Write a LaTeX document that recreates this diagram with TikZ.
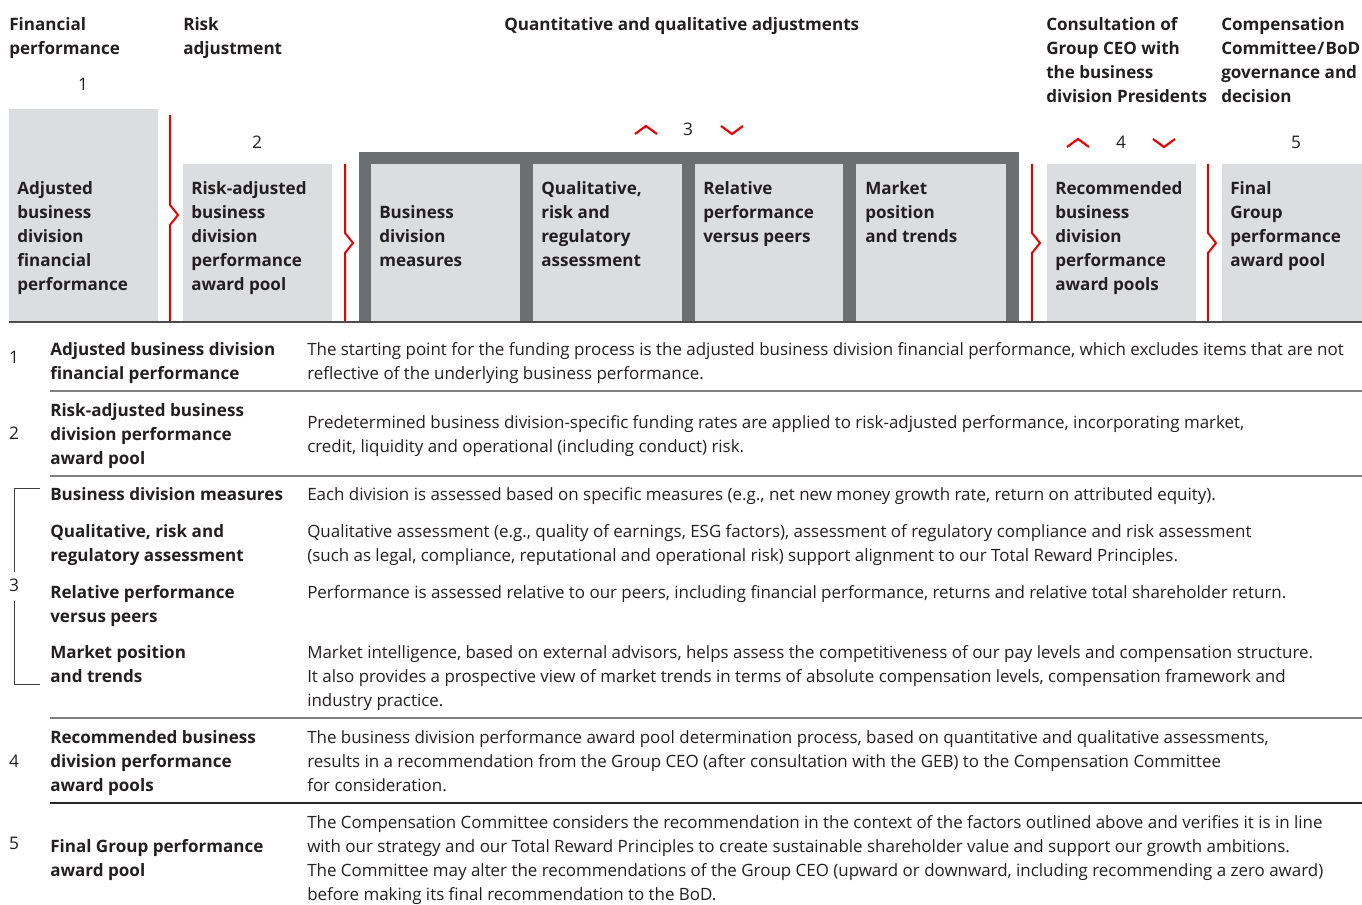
\documentclass[tikz,border=0pt]{standalone}
\usepackage{fontspec}
\setmainfont{Open Sans}
\definecolor{poolgray}{HTML}{DCDDDF}
\definecolor{framegray}{HTML}{6D6E71}
\definecolor{ubsred}{HTML}{E60000}
\definecolor{ink}{HTML}{231F20}
\definecolor{rulegray}{HTML}{7F7F7F}
\tikzset{
  hd/.style={anchor=base west, inner sep=0pt, align=left, text=ink, font=\bfseries\fontsize{12.8}{18}\selectfont},
  txt/.style={anchor=base west, inner sep=0pt, align=left, text=ink, font=\fontsize{12.7}{18}\selectfont},
  num/.style={anchor=base, inner sep=0pt, text=ink, font=\fontsize{13}{18}\selectfont},
  pool/.style={fill=poolgray},
  redsep/.style={draw=ubsred, line width=1.5pt},
  updown/.style={draw=ubsred, line width=1.6pt},
  rowrule/.style={draw=rulegray, line width=1pt}
}

\begin{document}
\begin{tikzpicture}[x=0.75pt,y=0.75pt,yscale=-1,xscale=1]
\useasboundingbox (0,0) rectangle (1362,905);

%Shape: pools
\fill [pool] (9,109) rectangle (158,322);
\fill [pool] (183,164) rectangle (332,322);
%Shape: frame of step 3
\fill [framegray] (359,152) rectangle (1019,322);
\fill [pool] (371,164) rectangle (520,322);
\fill [pool] (533,164) rectangle (682,322);
\fill [pool] (695,164) rectangle (843,322);
\fill [pool] (856,164) rectangle (1006,322);
\fill [pool] (1047,164) rectangle (1196,322);
\fill [pool] (1222,164) rectangle (1362,322);

%Straight Lines: red separators
\draw [redsep] (170,115) -- (170,205) -- (178,215) -- (170,225) -- (170,322);
\draw [redsep] (345,164) -- (345,233) -- (353,243) -- (345,253) -- (345,322);
\draw [redsep] (1032,164) -- (1032,233) -- (1040,243) -- (1032,253) -- (1032,322);
\draw [redsep] (1208,164) -- (1208,233) -- (1216,243) -- (1208,253) -- (1208,322);

%Straight Lines: up and down marks
\draw [updown] (635,134) -- (646,126) -- (657,134);
\draw [updown] (721,126) -- (732,134) -- (743,126);
\draw [updown] (1067,147) -- (1078,139) -- (1089,147);
\draw [updown] (1153,139) -- (1164,147) -- (1175,139);

%Straight Lines: rules
\draw [draw=black!70, line width=1.5pt] (9,322) -- (1362,322);
\draw [rowrule] (50,391) -- (1362,391);
\draw [rowrule] (50,476) -- (1362,476);
\draw [rowrule] (50,718) -- (1362,718);
\draw [rowrule, draw=black!85] (50,803) -- (1362,803);

%Straight Lines: bracket of step 3
\draw [draw=black!75, line width=0.7pt] (40,488) -- (14,488) -- (14,572);
\draw [draw=black!75, line width=0.7pt] (14,601) -- (14,684) -- (40,684);

% Text Node: headings (placed at the baseline of the last line)
\node [hd] (hdFin) at (9,55) {Financial\\performance};
\node [hd] (hdRisk) at (183,55) {Risk\\adjustment};
\node [hd] (hdAdj) at (504,31) {Quantitative and qualitative adjustments};
\node [hd] (hdCeo) at (1046,103) {Consultation of\\Group CEO with\\the business\\division Presidents};
\node [hd] (hdBod) at (1221,103) {Compensation\\Committee\kern0.8pt/\kern0.8pt BoD\\governance and\\decision};

% Text Node: step numbers
\node [num] (stepA) at (83,91) {1};
\node [num] (stepB) at (257,149) {2};
\node [num] (stepC) at (688,136) {3};
\node [num] (stepD) at (1121,149) {4};
\node [num] (stepE) at (1296,149) {5};

% Text Node: pools
\node [hd] (poolAdj) at (17,291) {Adjusted\\business\\division\\financial\\performance};
\node [hd] (poolRisk) at (191,291) {Risk-adjusted\\business\\division\\performance\\award pool};
\node [hd] (poolMeas) at (379,267) {Business\\division\\measures};
\node [hd] (poolQual) at (541,267) {Qualitative,\\risk and\\regulatory\\assessment};
\node [hd] (poolPeer) at (703,243) {Relative\\performance\\versus peers};
\node [hd] (poolMkt) at (865,243) {Market\\position\\and trends};
\node [hd] (poolRec) at (1055,291) {Recommended\\business\\division\\performance\\award pools};
\node [hd] (poolFin) at (1230,267) {Final\\Group\\performance\\award pool};

% Text Node: table numbers
\node [num] (rowA) at (14,363) {1};
\node [num] (rowB) at (14,439) {2};
\node [num] (rowC) at (14,591) {3};
\node [num] (rowD) at (14,767) {4};
\node [num] (rowE) at (14,849) {5};

% Text Node: table labels
\node [hd] (lblAdj) at (50,379) {Adjusted business division\\financial performance};
\node [hd] (lblRisk) at (50,464) {Risk-adjusted business\\division performance\\award pool};
\node [hd] (lblMeas) at (50,500) {Business division measures};
\node [hd] (lblQual) at (50,561) {Qualitative, risk and\\regulatory assessment};
\node [hd] (lblPeer) at (50,622) {Relative performance\\versus peers};
\node [hd] (lblMkt) at (50,682) {Market position\\and trends};
\node [hd] (lblRec) at (50,791) {Recommended business\\division performance\\award pools};
\node [hd] (lblFin) at (50,876) {Final Group performance\\award pool};

% Text Node: table descriptions
\node [txt] (dscAdj) at (307,379) {The starting point for the funding process is the adjusted business division financial performance, which excludes items that are not\\reflective of the underlying business performance.};
\node [txt] (dscRisk) at (307,452) {Predetermined business division-specific funding rates are applied to risk-adjusted performance, incorporating market,\\credit, liquidity and operational (including conduct) risk.};
\node [txt] (dscMeas) at (307,500) {Each division is assessed based on specific measures (e.g., net new money growth rate, return on attributed equity).};
\node [txt] (dscQual) at (307,561) {Qualitative assessment (e.g., quality of earnings, ESG factors), assessment of regulatory compliance and risk assessment\\(such as legal, compliance, reputational and operational risk) support alignment to our Total Reward Principles.};
\node [txt] (dscPeer) at (307,598) {Performance is assessed relative to our peers, including financial performance, returns and relative total shareholder return.};
\node [txt] (dscMkt) at (307,706) {Market intelligence, based on external advisors, helps assess the competitiveness of our pay levels and compensation structure.\\It also provides a prospective view of market trends in terms of absolute compensation levels, compensation framework and\\industry practice.};
\node [txt] (dscRec) at (307,791) {The business division performance award pool determination process, based on quantitative and qualitative assessments,\\results in a recommendation from the Group CEO (after consultation with the GEB) to the Compensation Committee\\for consideration.};
\node [txt] (dscFin) at (307,900) {The Compensation Committee considers the recommendation in the context of the factors outlined above and verifies it is in line\\with our strategy and our Total Reward Principles to create sustainable shareholder value and support our growth ambitions.\\The Committee may alter the recommendations of the Group CEO (upward or downward, including recommending a zero award)\\before making its final recommendation to the BoD.};

\end{tikzpicture}
\end{document}
